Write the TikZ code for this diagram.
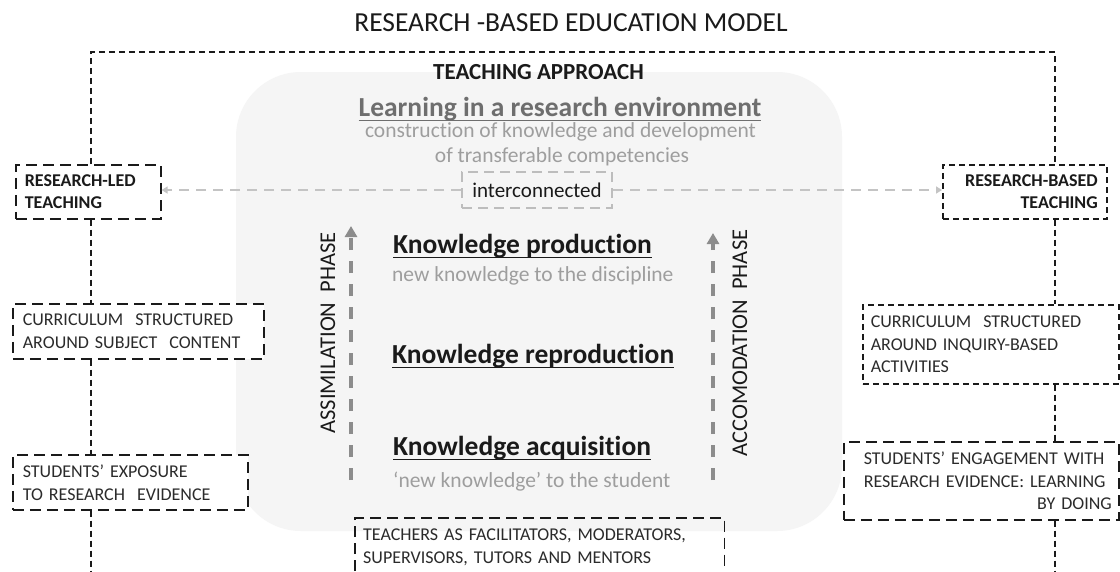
\documentclass[tikz,border=0pt]{standalone}
\usepackage{fontspec}
\setmainfont{Carlito}[Ligatures=NoCommon]
\usetikzlibrary{arrows.meta}

\definecolor{ink}{HTML}{1A1A1A}
\definecolor{boxink}{HTML}{2B2B2B}
\definecolor{headgray}{HTML}{6E6E6E}
\definecolor{subgray}{HTML}{9E9E9E}
\definecolor{phasegray}{HTML}{8C8C8C}
\definecolor{conngray}{HTML}{C4C4C4}
\definecolor{icgray}{HTML}{BDBDBD}
\definecolor{panelfill}{HTML}{F5F5F5}

% underline set just below the baseline, through the descenders
\newcommand\ulined[1]{\setbox0=\hbox{#1}\rlap{\rule[-5.2pt]{\wd0}{1.6pt}}\box0}

\begin{document}
\begin{tikzpicture}[x=1pt,y=-1pt,
  frame/.style={draw=ink, line width=1.5pt, dash pattern=on 6pt off 4pt},
  longbox/.style={draw=ink, fill=white, line width=1.6pt, dash pattern=on 11pt off 6pt},
  shortbox/.style={draw=ink, fill=white, line width=1.5pt, dash pattern=on 6pt off 4pt},
  boldlabel/.style={font=\bfseries\fontsize{18}{22}\selectfont, text=ink},
  caplabel/.style={font=\fontsize{18}{23}\selectfont, text=boxink},
  bighead/.style={font=\bfseries\fontsize{27.5}{33}\selectfont, inner sep=0pt},
  subline/.style={font=\fontsize{21.5}{26}\selectfont, text=subgray, inner sep=0pt},
  phasetext/.style={font=\fontsize{22.5}{27}\selectfont, text=ink, rotate=90, inner sep=0pt},
  phase/.style={draw=phasegray, line width=4pt, dash pattern=on 12pt off 11pt,
    -{Triangle[width=12pt,length=11pt]}},
  conn/.style={draw=conngray, line width=2pt, dash pattern=on 10pt off 7pt,
    -{Triangle[width=7pt,length=6pt]}},
]
\useasboundingbox[fill=white] (0,0) rectangle (1120,571);

% light panel holding the teaching approach
\fill[panelfill, rounded corners=65pt] (236,72) rectangle (842,531);

% title and headings
\node[anchor=base, inner sep=0pt, font=\fontsize{27.5}{33}\selectfont, text=ink] (title) at (571,31) {RESEARCH -BASED EDUCATION MODEL};
\node[anchor=base, inner sep=0pt, font=\bfseries\fontsize{23}{28}\selectfont, text=ink] (approach) at (538.5,79) {TEACHING APPROACH};
\node[bighead, anchor=base, text=headgray] (env) at (560,116) {\ulined{Learning in a research environment}};
\node[subline, anchor=base] (env1) at (560.5,137) {construction of knowledge and development};
\node[subline, anchor=base] (env2) at (562,162) {of transferable competencies};

% interconnection box
\node[draw=icgray, line width=2pt, dash pattern=on 10pt off 6pt, minimum width=150pt, minimum height=36pt, inner sep=0pt,
  font=\fontsize{21}{25}\selectfont, text=ink] (ic) at (537,190) {interconnected};

% the three knowledge levels
\node[bighead, anchor=base west, text=ink] (kp) at (393,253) {\ulined{Knowledge production}};
\node[subline, anchor=base west] (kp1) at (392,281) {new knowledge to the discipline};
\node[bighead, anchor=base west, text=ink] (kr) at (392,363) {\ulined{Knowledge reproduction}};
\node[bighead, anchor=base west, text=ink] (ka) at (393,455) {\ulined{Knowledge acquisition}};
\node[subline, anchor=base west] (ka1) at (393,487) {‘new knowledge’ to the student};

% phase arrows with their labels
\coordinate (asB) at (351,480);
\coordinate (asT) at (351,226);
\coordinate (acB) at (713,480);
\coordinate (acT) at (713,233);
\draw[phase] (asB) -- (asT);
\draw[phase] (acB) -- (acT);
\node[phasetext] (asl) at (328,333) {ASSIMILATION~ PHASE};
\node[phasetext] (acl) at (740,343) {ACCOMODATION~ PHASE};

% left column
\node[longbox, boldlabel, anchor=north west, minimum width=145pt, minimum height=54pt,
  text width=127pt, inner xsep=9pt, align=left] (rl) at (15,164) {RESEARCH-LED\\TEACHING};
\node[longbox, caplabel, anchor=north west, minimum width=251pt, minimum height=55pt,
  text width=231pt, inner xsep=10pt, align=left] (cl) at (12,303) {CURRICULUM~ STRUCTURED\\AROUND SUBJECT~ CONTENT};
\node[longbox, caplabel, anchor=north west, minimum width=235pt, minimum height=55pt,
  text width=215pt, inner xsep=10pt, align=left] (sl) at (12,454) {STUDENTS’ EXPOSURE\\TO RESEARCH~ EVIDENCE};

% right column
\node[shortbox, boldlabel, anchor=north west, minimum width=164pt, minimum height=54pt,
  text width=146pt, inner xsep=9pt, align=right] (rb) at (942,164) {RESEARCH-BASED\\TEACHING};
\node[shortbox, caplabel, anchor=north west, minimum width=256pt, minimum height=79pt,
  text width=240pt, inner xsep=8pt, align=left, font=\fontsize{18}{22.5}\selectfont] (cr) at (862,304)
  {CURRICULUM~ STRUCTURED\\AROUND INQUIRY-BASED\\ACTIVITIES};
\node[longbox, caplabel, anchor=north west, minimum width=275pt, minimum height=78pt,
  text width=261pt, inner xsep=7pt, align=right, font=\fontsize{18}{22.5}\selectfont] (sr) at (843,441)
  {\makebox[248pt][s]{STUDENTS’ ENGAGEMENT WITH}\\\makebox[248pt][s]{RESEARCH EVIDENCE: LEARNING}\\BY DOING};

% teachers' roles, open towards the bottom
\node[caplabel, anchor=north west, text width=353pt, inner xsep=8pt, inner ysep=11pt, align=left] (tc) at (355,518)
  {TEACHERS AS FACILITATORS, MODERATORS,\\SUPERVISORS, TUTORS AND MENTORS};
\coordinate (tcB) at (0,571);
\draw[longbox, fill=none] (tc.north west |- tcB) -- (tc.north west) -- (tc.north east) -- (tc.north east |- tcB);

% frame lines
\coordinate (fTL) at (91,52);
\coordinate (fTR) at (1055,52);
\coordinate (fBL) at (91,571);
\coordinate (fBR) at (1055,571);
\draw[frame] (rl.north -| fTL) -- (fTL) -- (fTR) -- (rb.north -| fTR);
\draw[frame] (rl.south -| fTL) -- (cl.north -| fTL);
\draw[frame] (cl.south -| fTL) -- (sl.north -| fTL);
\draw[frame] (sl.south -| fTL) -- (fBL);
\draw[frame] (rb.south -| fTR) -- (cr.north -| fTR);
\draw[frame] (cr.south -| fTR) -- (sr.north -| fTR);
\draw[frame] (sr.south -| fTR) -- (fBR);

% links to the two teaching modes
\draw[conn] (ic.west) -- (rl.east |- ic.west);
\draw[conn] (ic.east) -- (rb.west |- ic.east);
\end{tikzpicture}
\end{document}
